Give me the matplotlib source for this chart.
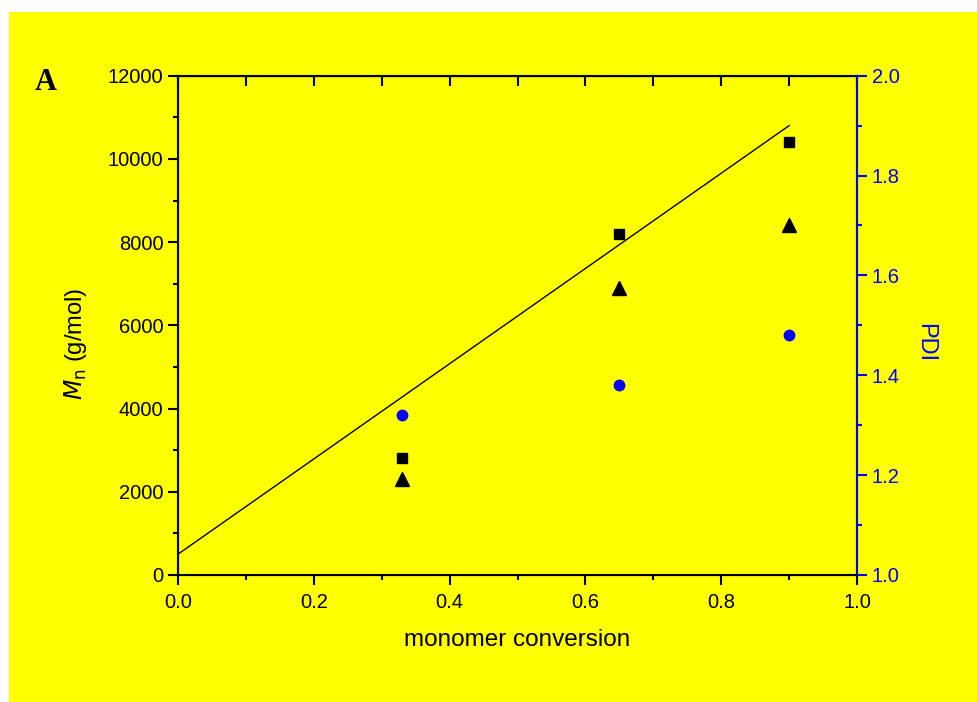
import matplotlib.pyplot as plt
from matplotlib.patches import Rectangle
from matplotlib.ticker import MultipleLocator

plt.rcParams['font.family'] = ['Liberation Sans', 'DejaVu Sans']

conversion = [0.33, 0.65, 0.90]
mn_square = [2800, 8200, 10400]
mn_triangle = [2300, 6900, 8400]
pdi = [1.32, 1.38, 1.48]
theory_x = [0.0, 0.9]
theory_mn = [500, 10800]

fig = plt.figure(figsize=(9.78, 7.02), dpi=100)
fig.patch.set_facecolor('white')
# yellow panel (white strip at top and left)
fig.patches.append(Rectangle((9 / 978, 0), 1, (702 - 12) / 702, transform=fig.transFigure,
                             facecolor='#ffff00', edgecolor='none', zorder=-10))

ax = fig.add_axes([178 / 978, 127 / 702, 679 / 978, 499.3 / 702])
ax.set_facecolor('#ffff00')
ax.plot(theory_x, theory_mn, color='black', lw=1.0)
ax.plot(conversion, mn_square, 's', color='black', ms=7.5)
ax.plot(conversion, mn_triangle, '^', color='black', ms=10)

ax.set_xlim(0, 1.0)
ax.set_ylim(0, 12000)
ax.xaxis.set_major_locator(MultipleLocator(0.2))
ax.xaxis.set_minor_locator(MultipleLocator(0.1))
ax.yaxis.set_major_locator(MultipleLocator(2000))
ax.yaxis.set_minor_locator(MultipleLocator(1000))
ax.tick_params(which='both', direction='out', width=1.5, labelsize=14.5, top=False, right=False)
ax.tick_params(which='major', length=7)
ax.tick_params(which='minor', length=3.5)
ax.tick_params(axis='x', pad=6)
for s in ax.spines.values():
    s.set_linewidth(1.5)
ax.set_xlabel('monomer conversion', fontsize=17.5, labelpad=12)
ax.set_ylabel(r'$M_{\rm n}$ (g/mol)', fontsize=17, labelpad=10)
ax.yaxis.set_label_coords(-0.131, 0.463)

top = ax.secondary_xaxis('top')
top.xaxis.set_major_locator(MultipleLocator(0.1))
top.tick_params(direction='in', length=7, width=1.5, labeltop=False)

ax2 = ax.twinx()
ax2.plot(conversion, pdi, 'o', color='#0000ff', ms=7.5)
ax2.set_ylim(1.0, 2.0)
ax2.yaxis.set_major_locator(MultipleLocator(0.2))
ax2.yaxis.set_minor_locator(MultipleLocator(0.1))
ax2.tick_params(which='both', direction='out', width=1.5, colors='#0000ff', labelsize=14.5)
ax2.tick_params(which='major', length=7)
ax2.tick_params(which='minor', length=3.5)
ax2.spines['right'].set_color('#0000ff')
ax2.spines['right'].set_linewidth(1.5)
ax2.set_ylabel('PDI', color='#0000ff', fontsize=17, rotation=270, va='center')
ax2.yaxis.set_label_coords(1.1, 0.466)

fig.text(46 / 978, 1 - 83 / 702, 'A', family='Liberation Serif', fontweight='bold',
         fontsize=22, ha='center', va='center')

fig.savefig('out.png', dpi=100)
